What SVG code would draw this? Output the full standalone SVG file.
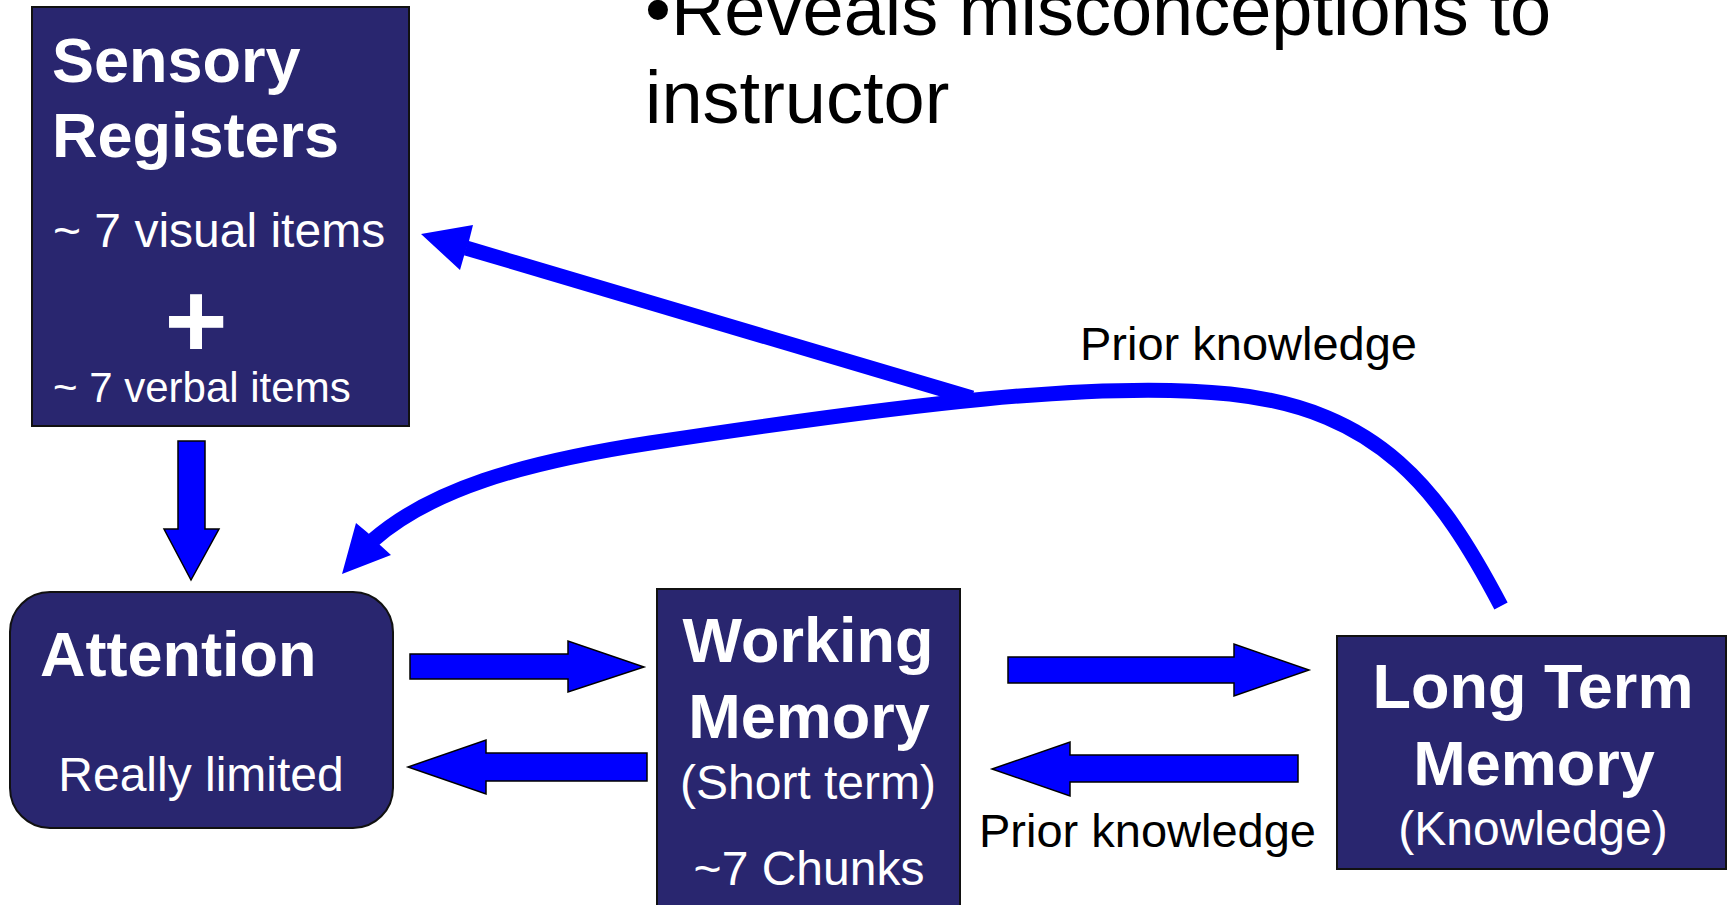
<svg xmlns="http://www.w3.org/2000/svg" width="1729" height="905" viewBox="0 0 1729 905">
<style>
.box{fill:#29266F;stroke:#111;stroke-width:2}
.t{font-family:"Liberation Sans",Arial,sans-serif;fill:#fff}
.b{font-weight:bold;font-size:63px}
.r{font-size:48px}
.k{font-family:"Liberation Sans",Arial,sans-serif;fill:#000}
.blk{fill:#0000FF;stroke:#000;stroke-width:1.5;stroke-linejoin:miter}
.ln{fill:none;stroke:#0000FF;stroke-width:15}
.hd{fill:#0000FF}
</style>
<rect width="1729" height="905" fill="#fff"/>
<text class="k" x="645" y="35" font-size="74">•Reveals misconceptions to</text>
<text class="k" x="645" y="123" font-size="74">instructor</text>
<g id="sensory">
<rect class="box" x="32" y="7" width="377" height="419"/>
<text class="t b" x="52" y="82">Sensory</text>
<text class="t b" x="52" y="157">Registers</text>
<text class="t r" x="53" y="247" font-size="47.5">~ 7 visual items</text>
<text class="t" x="196" y="357" font-size="108" font-weight="bold" text-anchor="middle">+</text>
<text class="t" x="53" y="402" font-size="42">~ 7 verbal items</text>
</g>
<g id="attention">
<rect class="box" x="10" y="592" width="383" height="236" rx="40" ry="40"/>
<text class="t b" x="40" y="676">Attention</text>
<text class="t r" x="201" y="791" text-anchor="middle">Really limited</text>
</g>
<g id="working">
<rect class="box" x="657" y="589" width="303" height="330"/>
<text class="t b" x="808" y="662" text-anchor="middle">Working</text>
<text class="t b" x="809" y="738" text-anchor="middle">Memory</text>
<text class="t r" x="808" y="799" text-anchor="middle">(Short term)</text>
<text class="t r" x="809" y="885" text-anchor="middle">~7 Chunks</text>
</g>
<g id="longterm">
<rect class="box" x="1337" y="636" width="389" height="233"/>
<text class="t b" x="1533" y="708" text-anchor="middle">Long Term</text>
<text class="t b" x="1534" y="785" text-anchor="middle">Memory</text>
<text class="t r" x="1533" y="845" text-anchor="middle">(Knowledge)</text>
</g>
<g id="connectors">
<polygon class="blk" points="178,441 205,441 205,529 219,529 191,580 164,529 178,529"/>
<polygon class="blk" points="410,654 568,654 568,641 644,667 568,692 568,679 410,679"/>
<polygon class="blk" points="647,753 486,753 486,740 408,767 486,794 486,781 647,781"/>
<polygon class="blk" points="1008,657 1234,657 1234,644 1309,670 1234,696 1234,683 1008,683"/>
<polygon class="blk" points="1298,755 1070,755 1070,742 992,769 1070,796 1070,782 1298,782"/>
<path class="ln" d="M 1501 606 C 1440 490, 1380 410, 1230 394 C 1100 380, 900 405, 650 443 C 520 463, 430 490, 372 541"/>
<polygon class="hd" points="342,574 356,523 368,533 380,545 391,555"/>
<path class="ln" d="M 466 248 L 972 398"/>
<polygon class="hd" points="421,234 473,225 469,241 464,256 460,270"/>
<text class="k" x="1080" y="360" font-size="47">Prior knowledge</text>
<text class="k" x="979" y="847" font-size="47">Prior knowledge</text>
</g>
</svg>
